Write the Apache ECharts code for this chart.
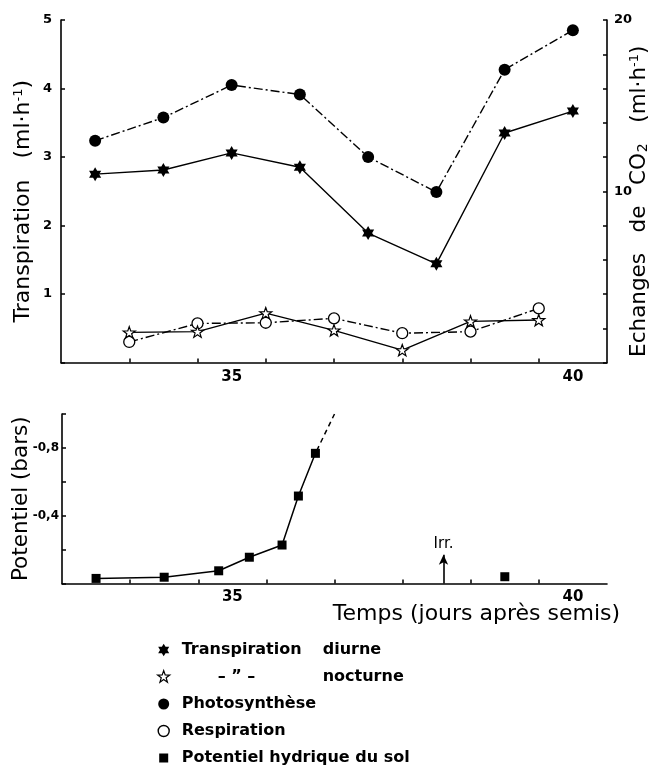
<!DOCTYPE html>
<html>
<head>
<meta charset="utf-8">
<script src="https://cdn.jsdelivr.net/npm/echarts@6/dist/echarts.min.js"></script>
<style>
html,body{margin:0;padding:0;background:#fff;}
#chart{width:664px;height:777px;}
</style>
</head>
<body>
<div id="chart"></div>
<script>
// ---- data ----
const days = [33, 34, 35, 36, 37, 38, 39, 40];
const halfDays = [33.5, 34.5, 35.5, 36.5, 37.5, 38.5, 39.5];
const transpDiurne = [2.75, 2.81, 3.06, 2.85, 1.89, 1.44, 3.35, 3.67];      // ml.h-1 (left axis)
const transpNocturne = [0.44, 0.45, 0.72, 0.47, 0.18, 0.60, 0.62];         // ml.h-1 (left axis)
const photosynthese = [12.95, 14.3, 16.2, 15.65, 12.0, 9.95, 17.1, 19.4];   // CO2 (right axis)
const respiration = [1.2, 2.28, 2.32, 2.58, 1.71, 1.8, 3.16];              // CO2 (right axis)
const potDays = [33, 34, 34.8, 35.25, 35.73, 35.97, 36.22];
const potentiel = [-0.03, -0.037, -0.075, -0.155, -0.227, -0.516, -0.768];  // bars
const potExtDays = [36.22, 36.5];
const potExt = [-0.768, -1.0];
const potAfterDays = [39];
const potAfter = [-0.04];
const irrDay = 38.1;
const irrTop = -0.17;
const xTicks = [33.5, 34.5, 35.5, 36.5, 37.5, 38.5, 39.5];
const xLabels = [35, 40];
const leftLabels = [1, 2, 3, 4, 5];
const rightLabels = [10, 20];
const potLabels = [-0.8, -0.4];

const names = {
  diurne: 'Transpiration diurne',
  nocturne: 'Transpiration nocturne',
  photo: 'Photosynthèse',
  resp: 'Respiration',
  pot: 'Potentiel hydrique du sol'
};

// ---- symbols ----
const hexStar = 'path://M0,-10L2.887,-5L8.66,-5L5.77,0L8.66,5L2.887,5L0,10L-2.887,5L-8.66,5L-5.77,0L-8.66,-5L-2.887,-5Z';
const penStar = 'path://M0,-10L2.351,-3.236L9.511,-3.09L3.804,1.236L5.878,8.09L0,4L-5.878,8.09L-3.804,1.236L-9.511,-3.09L-2.351,-3.236Z';
// legend icons with invisible padding points so they draw smaller inside the icon box
const legRect = 'path://M-7,-7L-7,-7M7,7L7,7M-4.5,-4.5L4.5,-4.5L4.5,4.5L-4.5,4.5Z';
const legCircle = 'path://M-7,-7L-7,-7M7,7L7,7M-5.5,0A5.5,5.5,0,1,1,5.5,0A5.5,5.5,0,1,1,-5.5,0Z';
const legHex = 'path://M-11,-11L-11,-11M11,11L11,11M0,-10L2.887,-5L8.66,-5L5.77,0L8.66,5L2.887,5L0,10L-2.887,5L-8.66,5L-5.77,0L-8.66,-5L-2.887,-5Z';
const legPen = 'path://M-11,-11L-11,-11M11,11L11,11M0,-10L2.351,-3.236L9.511,-3.09L3.804,1.236L5.878,8.09L0,4L-5.878,8.09L-3.804,1.236L-9.511,-3.09L-2.351,-3.236Z';

const zip = (xs, ys) => xs.map((x, i) => [x, ys[i]]);
const FONT = 'DejaVu Sans';
const dashDot = [9, 3, 2, 3];

const chart = echarts.init(document.getElementById('chart'), null, {renderer: 'canvas'});

const axisLineStyle = {color: '#000', width: 1.6};

const option = {
  animation: false,
  backgroundColor: '#fff',
  grid: [
    {left: 61, top: 20, width: 546, height: 342.5, containLabel: false, outerBoundsMode: 'none'},
    {left: 62, top: 414, width: 545, height: 169.5, containLabel: false, outerBoundsMode: 'none'}
  ],
  xAxis: [
    {
      type: 'value', gridIndex: 0, min: 32.5, max: 40.5, interval: 0.5,
      splitLine: {show: false},
      axisLine: {lineStyle: axisLineStyle, onZero: false},
      axisTick: {inside: true, length: 4, customValues: xTicks, lineStyle: {color: '#000', width: 1.5}},
      axisLabel: {customValues: xLabels, color: '#000', fontFamily: FONT, fontWeight: 'bold', fontSize: 15, margin: 7}
    },
    {
      type: 'value', gridIndex: 1, min: 32.5, max: 40.5, interval: 0.5,
      splitLine: {show: false},
      axisLine: {lineStyle: axisLineStyle, onZero: false},
      axisTick: {inside: true, length: 4, customValues: xTicks, lineStyle: {color: '#000', width: 1.5}},
      axisLabel: {customValues: xLabels, color: '#000', fontFamily: FONT, fontWeight: 'bold', fontSize: 15, margin: 6},
      name: 'Temps (jours après semis)',
      nameLocation: 'middle',
      nameMoveOverlap: false,
      nameGap: 20,
      nameTextStyle: {color: '#000', fontFamily: FONT, fontSize: 22, padding: [0, 0, 0, 284]}
    }
  ],
  yAxis: [
    {
      type: 'value', gridIndex: 0, min: 0, max: 5, interval: 1, position: 'left',
      splitLine: {show: false},
      axisLine: {show: true, lineStyle: axisLineStyle},
      axisTick: {inside: true, length: 4, lineStyle: {color: '#000', width: 1.5}},
      axisLabel: {customValues: leftLabels, color: '#000', fontFamily: FONT, fontWeight: 'bold', fontSize: 13, margin: 9},
      name: '{t|Transpiration   (ml·h}{s|-1}{t|)}',
      nameLocation: 'middle', nameRotate: 90, nameGap: 27, nameMoveOverlap: false,
      nameTextStyle: {
        color: '#000', padding: [0, 20, 0, 0],
        rich: {
          t: {fontFamily: FONT, fontSize: 22, color: '#000'},
          s: {fontFamily: FONT, fontSize: 13, color: '#000', verticalAlign: 'top', padding: [0, 0, 9, 0]}
        }
      }
    },
    {
      type: 'value', gridIndex: 0, min: 0, max: 20, interval: 2, position: 'right',
      splitLine: {show: false},
      axisLine: {show: true, lineStyle: axisLineStyle},
      axisTick: {inside: true, length: 4, lineStyle: {color: '#000', width: 1.5}},
      axisLabel: {customValues: rightLabels, color: '#000', fontFamily: FONT, fontWeight: 'bold', fontSize: 13, margin: 7},
      name: '{t|Echanges   de   CO}{b|2}{t|   (ml·h}{s|-1}{t|)}',
      nameLocation: 'middle', nameRotate: 90, nameGap: 21, nameMoveOverlap: false,
      nameTextStyle: {
        color: '#000', padding: [0, 20, 0, 0],
        rich: {
          t: {fontFamily: FONT, fontSize: 21.5, color: '#000'},
          b: {fontFamily: FONT, fontSize: 14, color: '#000', verticalAlign: 'bottom', padding: [0, 0, 0, 1]},
          s: {fontFamily: FONT, fontSize: 13, color: '#000', verticalAlign: 'top', padding: [0, 0, 9, 0]}
        }
      }
    },
    {
      type: 'value', gridIndex: 1, min: -1, max: 0, interval: 0.2, inverse: true, position: 'left',
      splitLine: {show: false},
      axisLine: {show: true, lineStyle: axisLineStyle},
      axisTick: {inside: true, length: 4, lineStyle: {color: '#000', width: 1.5}},
      axisLabel: {
        customValues: potLabels, color: '#000', fontFamily: FONT, fontWeight: 'bold', fontSize: 12, margin: 3,
        formatter: v => v.toFixed(1).replace('.', ',')
      },
      name: 'Potentiel (bars)',
      nameLocation: 'middle', nameRotate: 90, nameGap: 30, nameMoveOverlap: false,
      nameTextStyle: {color: '#000', fontFamily: FONT, fontSize: 21.5}
    }
  ],
  legend: {
    orient: 'vertical',
    left: 156,
    top: 641,
    padding: 0,
    itemWidth: 14,
    itemHeight: 14,
    itemGap: 9,
    textStyle: {
      color: '#000', fontFamily: FONT, fontWeight: 'bold', fontSize: 16, lineHeight: 18,
      rich: {
        a: {fontFamily: FONT, fontWeight: 'bold', fontSize: 16, lineHeight: 18, color: '#000', width: 141, padding: [0, 0, 0, 6]},
        c: {fontFamily: FONT, fontWeight: 'bold', fontSize: 16, lineHeight: 18, color: '#000', width: 105, padding: [0, 0, 0, 42]},
        b: {fontFamily: FONT, fontWeight: 'bold', fontSize: 16, lineHeight: 18, color: '#000'},
        n: {fontFamily: FONT, fontWeight: 'bold', fontSize: 16, lineHeight: 18, color: '#000', padding: [0, 0, 0, 6]}
      }
    },
    formatter: function (name) {
      if (name === names.diurne) return '{a|Transpiration}{b|diurne}';
      if (name === names.nocturne) return '{c|– ” –}{b|nocturne}';
      return '{n|' + name + '}';
    },
    data: [
      {name: names.diurne, icon: legHex, itemStyle: {color: '#000', borderWidth: 0}},
      {name: names.nocturne, icon: legPen, itemStyle: {color: '#fff', borderColor: '#000', borderWidth: 1.2}},
      {name: names.photo, icon: legCircle, itemStyle: {color: '#000', borderWidth: 0}},
      {name: names.resp, icon: legCircle, itemStyle: {color: '#fff', borderColor: '#000', borderWidth: 1.4}},
      {name: names.pot, icon: legRect, itemStyle: {color: '#000', borderWidth: 0}}
    ]
  },
  series: [
    {
      name: names.photo, type: 'line', xAxisIndex: 0, yAxisIndex: 1,
      data: zip(days, photosynthese),
      symbol: 'circle', symbolSize: 12,
      itemStyle: {color: '#000'},
      lineStyle: {color: '#000', width: 1.4, type: dashDot},
      z: 3
    },
    {
      name: names.diurne, type: 'line', xAxisIndex: 0, yAxisIndex: 0,
      data: zip(days, transpDiurne),
      symbol: hexStar, symbolSize: 14, symbolKeepAspect: true,
      itemStyle: {color: '#000'},
      lineStyle: {color: '#000', width: 1.4},
      z: 3
    },
    {
      name: names.resp, type: 'line', xAxisIndex: 0, yAxisIndex: 1,
      data: zip(halfDays, respiration),
      symbol: 'circle', symbolSize: 11,
      itemStyle: {color: '#fff', borderColor: '#000', borderWidth: 1.3},
      lineStyle: {color: '#000', width: 1.4, type: dashDot},
      z: 3
    },
    {
      name: names.nocturne, type: 'line', xAxisIndex: 0, yAxisIndex: 0,
      data: zip(halfDays, transpNocturne),
      symbol: penStar, symbolSize: 12, symbolKeepAspect: true,
      itemStyle: {color: '#fff', borderColor: '#000', borderWidth: 1.2},
      lineStyle: {color: '#000', width: 1.4},
      z: 4
    },
    {
      name: names.pot, type: 'line', xAxisIndex: 1, yAxisIndex: 2,
      data: zip(potDays, potentiel),
      symbol: 'rect', symbolSize: 9,
      itemStyle: {color: '#000'},
      lineStyle: {color: '#000', width: 1.5},
      z: 3,
      markLine: {
        silent: true,
        symbol: ['none', 'arrow'],
        symbolSize: [7, 10],
        lineStyle: {color: '#000', width: 1.6, type: 'solid'},
        label: {show: true, position: 'end', formatter: 'Irr.', color: '#000', fontFamily: FONT, fontSize: 15, distance: 3},
        data: [[{coord: [irrDay, 0]}, {coord: [irrDay, irrTop]}]]
      }
    },
    {
      name: names.pot, type: 'line', xAxisIndex: 1, yAxisIndex: 2,
      data: zip(potExtDays, potExt),
      symbol: 'none',
      lineStyle: {color: '#000', width: 1.5, type: [5, 4], dashOffset: 6},
      z: 2
    },
    {
      name: names.pot, type: 'line', xAxisIndex: 1, yAxisIndex: 2,
      data: zip(potAfterDays, potAfter),
      symbol: 'rect', symbolSize: 9,
      itemStyle: {color: '#000'},
      lineStyle: {color: '#000', width: 1.5},
      z: 3
    }
  ]
};

chart.setOption(option);
</script>
</body>
</html>
